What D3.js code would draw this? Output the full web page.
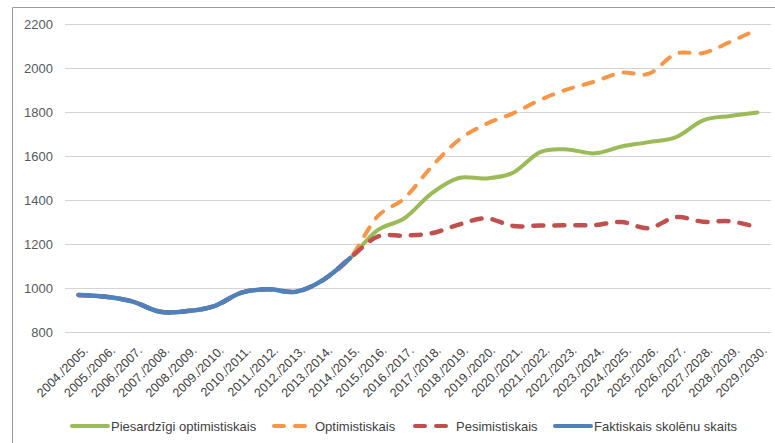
<!DOCTYPE html>
<html><head><meta charset="utf-8">
<script src="https://cdn.jsdelivr.net/npm/d3@7"></script>
<style>
html,body{margin:0;padding:0;background:#fff;}
svg{display:block;font-family:"Liberation Sans",Arial,sans-serif;}
</style></head>
<body><svg id="c" width="775" height="443"></svg>
<script>
const categories = ["2004./2005.","2005./2006.","2006./2007.","2007./2008.","2008./2009.","2009./2010.","2010./2011.","2011./2012.","2012./2013.","2013./2014.","2014./2015.","2015./2016.","2016./2017.","2017./2018.","2018./2019.","2019./2020.","2020./2021.","2021./2022.","2022./2023.","2023./2024.","2024./2025.","2025./2026.","2026./2027.","2027./2028.","2028./2029.","2029./2030."];
const yTicks = [800,1000,1200,1400,1600,1800,2000,2200];
const actual = [968,960,938,892,895,918,979,994,983,1036,1136];
const cautious = [968,960,938,892,895,918,979,994,983,1036,1136,1262,1317,1430,1500,1498,1524,1618,1630,1612,1643,1663,1686,1762,1782,1798];
const optimistic = [968,960,938,892,895,918,979,994,983,1036,1136,1324,1408,1551,1673,1745,1794,1855,1903,1938,1979,1974,2065,2068,2119,2176];
const pessimistic = [968,960,938,892,895,918,979,994,983,1036,1136,1233,1238,1249,1288,1317,1282,1284,1285,1286,1300,1272,1322,1301,1303,1276];
const seriesNames = ["Piesardzīgi optimistiskais","Optimistiskais","Pesimistiskais","Faktiskais skolēnu skaits"];
const colors = ["#9BBB59","#F79646","#C0504D","#4F81BD"];

const svg = d3.select("#c");
// outer frame
svg.append("path").attr("d","M12.5,443 V7.5 H775").attr("fill","none").attr("stroke","#9a9a9a").attr("stroke-width",1);

const x = d3.scalePoint().domain(categories).range([65,771]).padding(0.5);
const y = d3.scaleLinear().domain([800,2200]).range([332,24]);

// gridlines
svg.append("g").selectAll("line").data(yTicks).join("line")
  .attr("x1",65).attr("x2",771)
  .attr("y1",d=>Math.round(y(d))+0.5).attr("y2",d=>Math.round(y(d))+0.5)
  .attr("stroke","#d4d4d4").attr("stroke-width",1.2);

// y labels
svg.append("g").selectAll("text").data(yTicks).join("text")
  .attr("x",53).attr("y",d=>y(d)).attr("dy","0.35em")
  .attr("text-anchor","end").attr("font-size",13).attr("fill","#595959")
  .text(d=>d);

// x labels
svg.append("g").selectAll("text").data(categories).join("text")
  .attr("text-anchor","end").attr("font-size",12.5).attr("fill","#404040")
  .attr("transform",d=>`translate(${x(d)+4},${345}) rotate(-45)`)
  .attr("dy","0.7em")
  .text(d=>d);

const line = d3.line().x((d,i)=>x(categories[i])).y(d=>y(d)).curve(d3.curveCatmullRom.alpha(0));
const data = [cautious, optimistic, pessimistic, actual];
const dashes = [null,"10,11","10,11",null];
const widths = [4,4,4.5,4.5];
data.forEach((s,k)=>{
  svg.append("path").datum(s).attr("d",line)
    .attr("fill","none").attr("stroke",colors[k]).attr("stroke-width",widths[k])
    .attr("stroke-linecap","round").attr("stroke-linejoin","round")
    .attr("stroke-dasharray",dashes[k]);
});

// legend
const legX = [70,272,413,553];
const legLen = [40,35,35,40];
const lg = svg.append("g");
seriesNames.forEach((n,k)=>{
  const x0 = legX[k];
  lg.append("line").attr("x1",x0+2).attr("x2",x0+legLen[k]-2).attr("y1",426).attr("y2",426)
    .attr("stroke",colors[k]).attr("stroke-width",4).attr("stroke-linecap","round")
    .attr("stroke-dasharray",dashes[k] ? "10,11" : null);
  lg.append("text").attr("x",x0+legLen[k]+(dashes[k]?8:1)).attr("y",426).attr("dy","0.35em")
    .attr("font-size",13).attr("fill","#404040").text(n);
});
</script></body></html>
